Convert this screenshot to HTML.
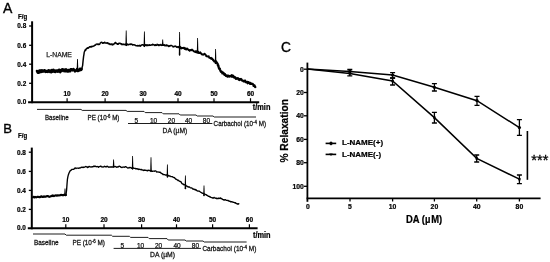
<!DOCTYPE html>
<html><head><meta charset="utf-8"><title>Figure</title>
<style>
html,body{margin:0;padding:0;background:#fff;}
body{width:550px;height:262px;overflow:hidden;font-family:"Liberation Sans",sans-serif;}
svg{display:block;filter:blur(0.3px);}
</style></head><body>
<svg width="550" height="262" viewBox="0 0 550 262">
<rect width="550" height="262" fill="#fff"/>
<g font-family="Liberation Sans, sans-serif" fill="#000">
<style>.b{font-weight:bold;stroke:#000;stroke-width:0.22px}</style>
<text x="2.9" y="13.3" font-size="14" stroke="#000" stroke-width="0.35">A</text>
<text x="3.3" y="133.3" font-size="13.1" stroke="#000" stroke-width="0.35">B</text>
<text x="281.1" y="52.2" font-size="13.8" stroke="#000" stroke-width="0.35">C</text>
<line x1="32.1" y1="21.3" x2="32.1" y2="103.2" stroke="#000" stroke-width="2"/>
<line x1="28.1" y1="102.2" x2="259.2" y2="102.2" stroke="#000" stroke-width="2"/>
<line x1="29.1" y1="26.0" x2="32.1" y2="26.0" stroke="#000" stroke-width="1.3"/>
<text x="17.3" y="28.3" font-size="6.5" class="b" textLength="8.9" lengthAdjust="spacingAndGlyphs">0.8</text>
<line x1="29.1" y1="45.3" x2="32.1" y2="45.3" stroke="#000" stroke-width="1.3"/>
<text x="17.3" y="47.6" font-size="6.5" class="b" textLength="8.9" lengthAdjust="spacingAndGlyphs">0.6</text>
<line x1="29.1" y1="64.2" x2="32.1" y2="64.2" stroke="#000" stroke-width="1.3"/>
<text x="17.3" y="66.5" font-size="6.5" class="b" textLength="8.9" lengthAdjust="spacingAndGlyphs">0.4</text>
<line x1="29.1" y1="83.3" x2="32.1" y2="83.3" stroke="#000" stroke-width="1.3"/>
<text x="17.3" y="85.6" font-size="6.5" class="b" textLength="8.9" lengthAdjust="spacingAndGlyphs">0.2</text>
<text x="17.3" y="103.9" font-size="6.5" class="b" textLength="8.9" lengthAdjust="spacingAndGlyphs">0.0</text>
<line x1="67.1" y1="98.2" x2="67.1" y2="102.2" stroke="#000" stroke-width="1.2"/>
<text x="67.1" y="96.1" font-size="6.5" class="b" text-anchor="middle">10</text>
<line x1="105.1" y1="98.2" x2="105.1" y2="102.2" stroke="#000" stroke-width="1.2"/>
<text x="105.1" y="96.1" font-size="6.5" class="b" text-anchor="middle">20</text>
<line x1="143.1" y1="98.2" x2="143.1" y2="102.2" stroke="#000" stroke-width="1.2"/>
<text x="143.1" y="96.1" font-size="6.5" class="b" text-anchor="middle">30</text>
<line x1="178.0" y1="98.2" x2="178.0" y2="102.2" stroke="#000" stroke-width="1.2"/>
<text x="178.0" y="96.1" font-size="6.5" class="b" text-anchor="middle">40</text>
<line x1="214.0" y1="98.2" x2="214.0" y2="102.2" stroke="#000" stroke-width="1.2"/>
<text x="214.0" y="96.1" font-size="6.5" class="b" text-anchor="middle">50</text>
<line x1="250.5" y1="98.2" x2="250.5" y2="102.2" stroke="#000" stroke-width="1.2"/>
<text x="250.5" y="96.1" font-size="6.5" class="b" text-anchor="middle">60</text>
<text x="18" y="18.9" font-size="6.6" class="b" textLength="9.2" lengthAdjust="spacingAndGlyphs">F/g</text>
<text x="252.8" y="110.3" font-size="8.3" class="b" textLength="17.6" lengthAdjust="spacingAndGlyphs">t/min</text>
<line x1="31.8" y1="147.6" x2="31.8" y2="229.3" stroke="#000" stroke-width="2"/>
<line x1="27.8" y1="228.3" x2="257.6" y2="228.3" stroke="#000" stroke-width="2"/>
<line x1="28.8" y1="152.2" x2="31.8" y2="152.2" stroke="#000" stroke-width="1.3"/>
<text x="17.0" y="154.5" font-size="6.5" class="b" textLength="8.9" lengthAdjust="spacingAndGlyphs">0.8</text>
<line x1="28.8" y1="171.4" x2="31.8" y2="171.4" stroke="#000" stroke-width="1.3"/>
<text x="17.0" y="173.7" font-size="6.5" class="b" textLength="8.9" lengthAdjust="spacingAndGlyphs">0.6</text>
<line x1="28.8" y1="190.4" x2="31.8" y2="190.4" stroke="#000" stroke-width="1.3"/>
<text x="17.0" y="192.7" font-size="6.5" class="b" textLength="8.9" lengthAdjust="spacingAndGlyphs">0.4</text>
<line x1="28.8" y1="209.4" x2="31.8" y2="209.4" stroke="#000" stroke-width="1.3"/>
<text x="17.0" y="211.7" font-size="6.5" class="b" textLength="8.9" lengthAdjust="spacingAndGlyphs">0.2</text>
<text x="17.0" y="230.3" font-size="6.5" class="b" textLength="8.9" lengthAdjust="spacingAndGlyphs">0.0</text>
<line x1="65.8" y1="224.3" x2="65.8" y2="228.3" stroke="#000" stroke-width="1.2"/>
<text x="65.8" y="222.0" font-size="6.5" class="b" text-anchor="middle">10</text>
<line x1="104.0" y1="224.3" x2="104.0" y2="228.3" stroke="#000" stroke-width="1.2"/>
<text x="104.0" y="222.0" font-size="6.5" class="b" text-anchor="middle">20</text>
<line x1="141.6" y1="224.3" x2="141.6" y2="228.3" stroke="#000" stroke-width="1.2"/>
<text x="141.6" y="222.0" font-size="6.5" class="b" text-anchor="middle">30</text>
<line x1="176.5" y1="224.3" x2="176.5" y2="228.3" stroke="#000" stroke-width="1.2"/>
<text x="176.5" y="222.0" font-size="6.5" class="b" text-anchor="middle">40</text>
<line x1="212.6" y1="224.3" x2="212.6" y2="228.3" stroke="#000" stroke-width="1.2"/>
<text x="212.6" y="222.0" font-size="6.5" class="b" text-anchor="middle">50</text>
<line x1="249.4" y1="224.3" x2="249.4" y2="228.3" stroke="#000" stroke-width="1.2"/>
<text x="249.4" y="222.0" font-size="6.5" class="b" text-anchor="middle">60</text>
<text x="18" y="138.3" font-size="6.6" class="b" textLength="9.2" lengthAdjust="spacingAndGlyphs">F/g</text>
<text x="253.0" y="238.2" font-size="8.3" class="b" textLength="17.6" lengthAdjust="spacingAndGlyphs">t/min</text>
<g fill="none" stroke="#000" stroke-linejoin="round" stroke-linecap="round">
<path d="M37.00 71.05L37.41 71.95L37.81 72.65L38.22 71.76L38.62 71.31L39.03 72.62L39.44 70.46L39.84 72.30L40.25 70.94L40.66 70.55L41.06 70.42L41.47 70.79L41.88 71.90L42.28 70.39L42.69 71.29L43.09 71.43L43.50 70.84L43.91 71.29L44.31 70.23L44.72 70.30L45.12 70.71L45.53 71.87L45.94 71.33L46.34 71.08L46.75 71.67L47.16 71.29L47.56 70.82L47.97 71.83L48.38 71.48L48.78 70.35L49.19 71.07L49.59 70.96L50.00 71.82L50.39 71.54L50.79 70.58L51.18 72.19L51.58 70.19L51.97 70.83L52.37 71.55L52.76 70.11L53.16 70.86L53.55 69.85L53.95 71.36L54.34 71.65L54.74 71.28L55.13 72.00L55.53 70.67L55.92 71.46L56.32 71.09L56.71 70.91L57.11 70.50L57.50 71.32L57.89 71.57L58.29 70.56L58.68 71.10L59.08 69.83L59.47 71.39L59.87 71.28L60.26 72.03L60.66 71.54L61.05 70.17L61.45 70.29L61.84 70.85L62.24 69.33L62.63 70.35L63.03 69.73L63.42 69.67L63.82 69.58L64.21 71.21L64.61 69.71L65.00 69.92L65.40 70.19L65.80 71.24L66.21 69.41L66.61 70.28L67.01 70.57L67.41 71.41L67.82 71.32L68.22 71.45L68.62 70.08L69.02 70.33L69.43 70.10L69.83 71.20L70.23 71.26L70.63 69.32L71.04 69.32L71.44 69.42L71.84 69.42L72.24 70.02L72.65 70.30L73.05 69.60L73.45 69.05L73.85 70.06L74.26 69.98L74.66 70.46L75.06 71.35L75.46 70.72L75.87 70.28L76.27 70.46L76.67 70.55L77.07 69.07L77.48 70.99L77.88 70.70L78.28 70.90L78.68 70.70L79.09 69.72L79.49 69.67L79.89 68.91L80.29 70.05L80.70 68.68L81.10 68.68L81.50 69.04" stroke-width="2.6"/>
<path d="M81.50 70.40L81.87 69.06L82.23 67.00L82.60 65.61L83.10 60.69L83.60 56.38L83.95 54.31L84.30 51.88L84.65 51.70L85.00 50.10L85.38 49.58L85.75 50.18L86.12 49.29L86.50 48.47L86.92 48.57L87.35 47.73L87.78 48.02L88.20 48.23L88.58 47.94L88.97 47.56L89.35 46.88L89.73 46.82L90.12 46.47L90.50 47.05L90.90 46.76L91.30 46.99L91.70 46.42L92.10 46.15L92.50 46.59L92.90 46.54L93.30 46.18L93.69 45.95L94.07 45.85L94.46 45.70L94.84 45.08L95.23 45.31L95.61 44.98L96.00 44.41L96.40 44.13L96.80 44.14L97.20 43.92L97.60 44.29L98.00 44.55L98.40 43.99L98.83 44.54L99.27 44.51L99.70 44.24L100.13 43.26L100.57 42.75L101.00 42.47L101.40 42.31L101.80 42.30L102.20 42.83L102.60 43.22L103.00 43.19L103.40 42.74L103.83 42.93L104.27 43.03L104.70 42.17L105.13 42.79L105.57 43.11L106.00 43.07L106.42 43.18L106.83 43.00L107.25 42.74L107.67 43.46L108.08 43.02L108.50 43.63L108.89 44.00L109.28 43.58L109.67 43.79L110.06 44.57L110.45 44.44L110.84 43.89L111.23 43.88L111.62 43.95L112.01 44.87L112.40 44.92L112.82 44.02L113.23 44.61L113.65 44.58L114.07 43.95L114.48 43.26L114.90 43.07L115.29 42.55L115.68 42.43L116.08 43.58L116.47 43.42L116.86 43.50L117.25 44.15L117.65 43.73L118.04 44.22L118.43 44.09L118.82 43.27L119.22 43.20L119.61 43.20L120.00 43.21L120.39 43.74L120.78 43.60L121.16 43.98L121.55 43.81L121.94 44.74L122.33 44.12L122.71 44.17L123.10 44.26L123.49 44.59L123.88 44.10L124.26 44.73L124.65 44.38L125.04 44.52L125.42 44.57L125.81 44.04L126.20 44.51L126.60 44.16L127.00 43.94L127.40 44.83L127.80 44.18L128.20 44.55L128.60 44.83L129.00 44.59L129.40 44.23L129.80 44.33L130.20 44.28L130.60 44.51L131.00 43.81L131.40 44.41L131.80 44.26L132.20 44.44L132.60 45.04L133.00 44.73L133.40 44.72L133.80 44.89L134.20 45.09L134.60 44.71L135.00 45.12L135.40 45.27L135.80 45.52L136.20 45.87L136.60 45.65L137.00 45.68L137.40 45.52L137.80 45.97L138.21 45.60L138.62 45.80L139.04 45.97L139.45 45.34L139.86 45.76L140.28 46.18L140.69 45.98L141.10 45.06L141.51 44.89L141.93 45.13L142.34 44.68L142.75 44.89L143.16 44.74L143.58 45.42L143.99 45.52L144.40 45.58L144.81 44.71L145.22 45.29L145.62 45.23L146.03 44.69L146.44 45.55L146.85 45.67L147.25 44.83L147.66 45.57L148.07 44.87L148.48 44.89L148.88 45.43L149.29 45.32L149.70 44.70L150.11 45.13L150.52 45.31L150.92 45.11L151.33 44.85L151.74 44.81L152.15 45.08L152.55 44.19L152.96 44.78L153.37 44.77L153.78 44.49L154.18 45.01L154.59 45.43L155.00 45.29L155.41 44.69L155.81 45.53L156.22 45.16L156.62 45.28L157.03 44.35L157.43 44.63L157.84 44.52L158.24 45.46L158.65 44.94L159.05 44.75L159.46 44.97L159.86 45.39L160.27 45.21L160.67 44.58L161.08 44.51L161.48 45.44L161.89 45.14L162.29 45.32L162.70 44.65L163.11 44.62L163.51 45.32L163.92 45.06L164.32 44.74L164.73 45.78L165.13 45.53L165.54 45.76L165.94 44.97L166.35 45.80L166.76 44.92L167.16 45.82L167.57 45.48L167.97 45.53L168.38 45.98L168.78 46.57L169.19 45.95L169.59 45.79L170.00 46.12L170.40 45.66L170.80 45.40L171.20 45.43L171.60 45.41L172.00 45.78L172.40 46.15L172.80 46.37L173.20 47.01L173.60 46.52L174.00 46.68L174.40 46.22L174.80 46.32L175.20 45.96L175.60 46.30L176.00 46.20L176.40 47.17L176.80 47.12L177.20 46.79L177.60 47.10L178.00 47.55L178.40 46.59L178.80 47.37L179.20 47.00L179.60 47.20" stroke-width="1.45"/>
<path d="M179.60 46.84L179.99 46.78L180.37 46.83L180.76 48.19L181.14 48.48L181.53 48.40L181.91 47.96L182.30 47.96L182.69 48.02L183.07 48.19L183.46 47.65L183.84 48.02L184.23 47.76L184.61 48.89L185.00 49.04L185.42 48.60L185.83 48.34L186.25 49.59L186.67 48.75L187.08 48.96L187.50 48.59L187.92 49.38L188.33 49.80L188.75 50.15L189.17 49.99L189.58 50.66L190.00 50.01L190.40 50.37L190.80 49.99L191.20 50.30L191.60 49.64L192.00 49.57L192.40 50.05L192.80 50.10L193.20 50.86L193.60 51.01L194.00 51.55L194.40 51.56L194.80 51.73L195.20 52.02L195.60 51.32L196.00 51.30L196.40 52.40L196.80 51.31L197.20 52.34L197.60 52.36L197.99 51.62L198.38 52.90L198.77 53.03L199.16 52.66L199.55 52.88L199.94 53.11L200.33 52.30L200.72 53.13L201.11 53.40L201.49 54.18L201.88 54.37L202.27 54.55L202.66 54.26L203.05 54.74L203.44 54.43L203.83 54.48L204.22 53.89L204.61 53.77L205.00 54.16L205.42 54.88L205.83 54.85L206.25 56.24L206.67 56.04L207.08 56.30L207.50 56.43L207.92 56.67L208.33 56.61L208.75 56.16L209.17 57.67L209.58 57.92L210.00 57.84L210.38 58.11L210.75 58.48L211.12 57.75L211.50 58.93L211.88 58.43L212.25 58.45L212.62 59.10L213.00 60.22L213.43 59.87L213.87 61.06L214.30 61.71L214.73 61.16L215.17 61.08L215.60 61.28" stroke-width="1.9"/>
<path d="M215.60 61.44L216.00 61.39L216.40 62.23L216.80 62.73L217.20 63.34L217.57 63.63L217.93 65.49L218.30 65.26L218.75 67.60L219.20 68.73L219.70 68.45L220.20 70.10L220.56 71.03L220.92 71.68L221.28 71.42L221.64 71.63L222.00 72.00L222.40 73.34L222.80 72.60L223.20 73.39L223.60 73.06L224.00 73.89L224.42 74.77L224.83 73.93L225.25 75.21L225.67 75.08L226.08 75.92L226.50 75.96L226.93 75.47L227.37 76.56L227.80 76.15L228.23 75.66L228.67 75.77L229.10 76.58L229.50 76.43L229.90 76.12L230.30 75.80L230.70 76.00L231.10 75.89L231.50 76.55L231.90 75.29L232.30 76.25L232.70 76.55L233.10 75.73L233.50 77.05L233.90 76.99L234.30 77.53L234.70 76.97L235.10 77.40L235.50 77.73L235.90 78.84L236.30 78.49L236.70 78.35L237.09 78.53L237.49 78.41L237.88 78.21L238.27 78.43L238.67 79.62L239.06 79.00L239.46 80.02L239.85 79.12L240.24 79.16L240.64 79.51L241.03 79.08L241.43 79.41L241.82 80.36L242.21 80.46L242.61 80.58L243.00 80.55L243.40 81.18L243.80 81.41L244.20 81.02L244.60 81.40L245.00 80.63L245.40 81.79L245.80 81.64L246.20 82.32L246.60 82.41L247.00 82.10L247.40 81.90L247.80 83.21L248.20 82.13L248.58 82.66L248.96 82.54L249.34 82.59L249.72 83.36L250.10 83.87L250.48 83.05L250.86 83.79L251.24 83.45L251.62 83.96L252.00 83.89L252.41 83.82L252.82 84.10L253.24 84.48L253.65 85.79L254.06 85.55L254.48 85.47L254.89 86.71L255.30 87.08" stroke-width="2.3"/>
<path d="M33.00 197.13L33.50 196.82L34.00 196.93L34.50 197.46L35.00 196.78L35.50 197.09L36.00 197.20L36.50 197.39L37.00 196.87L37.50 196.90L38.00 196.86L38.50 196.94L39.00 196.92L39.50 197.26L40.00 197.10L40.50 197.04L41.00 196.31L41.50 196.29L42.00 196.85L42.50 197.03L43.00 196.73L43.50 196.84L44.00 196.34L44.50 196.56L45.00 196.85L45.50 196.62L46.00 196.52L46.50 196.55L47.00 195.98L47.50 195.94L48.00 196.09L48.50 196.49L49.00 196.67L49.50 196.86L50.00 196.59L50.50 196.37L51.00 196.30L51.50 195.91L52.00 195.89L52.50 195.44L53.00 196.04L53.50 195.61L54.00 196.15L54.50 195.90L55.00 195.57L55.50 195.36L56.00 195.40L56.50 195.67L57.00 195.71L57.50 195.25L58.00 195.22L58.50 195.57L59.00 195.57L59.50 195.34L60.00 195.11L60.50 195.30L61.00 194.73L61.50 194.87L62.00 194.93L62.50 195.27L63.00 194.98L63.50 195.14L64.00 194.80L64.50 194.63L65.00 194.68L65.50 195.29L66.00 195.12" stroke-width="2.1"/>
<path d="M66.00 194.89L66.60 190.04L67.00 184.39L67.40 179.43L67.90 176.68L68.40 174.66L68.93 173.23L69.47 172.06L70.00 171.16L70.50 170.35L71.00 170.36L71.50 169.79L72.00 169.40L72.50 169.42L73.00 169.43L73.50 169.32L74.00 169.11L74.50 168.22L75.00 168.12L75.50 167.99L76.00 168.59L76.50 168.19L77.00 168.18L77.50 168.10L78.00 168.13L78.50 168.25L79.00 168.08L79.50 167.88L80.00 167.97L80.50 167.88L81.00 167.40L81.50 167.19L82.00 167.59L82.50 167.46L83.00 167.04L83.50 167.47L84.00 167.24L84.50 167.09L85.00 166.88L85.50 166.65L86.00 166.52L86.50 166.79L87.00 166.97L87.50 167.43L88.00 166.84L88.50 167.20L89.00 166.50L89.50 166.47L90.00 166.78L90.50 166.96L91.00 166.92L91.50 166.79L92.00 167.02L92.50 166.77L93.00 166.88L93.50 166.22L94.00 166.22L94.50 166.55L95.00 166.04L95.50 166.35L96.00 166.69L96.50 166.78L97.00 166.48L97.50 166.65L98.00 166.77L98.50 167.28L99.00 166.66L99.50 166.68L100.00 166.53L100.50 166.08L101.00 166.16L101.50 166.87L102.00 166.94L102.50 166.89L103.00 167.18L103.50 166.77L104.00 166.53L104.50 166.20L105.00 166.63L105.50 166.76L106.00 166.63L106.50 166.86L107.00 166.26L107.50 166.41L108.00 166.64L108.50 167.08L109.00 167.25L109.50 167.00L110.00 166.94L110.51 166.99L111.03 166.93L111.54 167.15L112.06 166.68L112.57 167.12L113.09 167.07L113.60 167.04L114.09 166.84L114.58 166.60L115.08 166.40L115.57 166.53L116.06 166.79L116.55 167.30L117.05 166.96L117.54 166.97L118.03 167.10L118.52 166.52L119.02 166.22L119.51 166.16L120.00 166.60L120.50 166.70L121.00 167.34L121.50 167.43L122.00 167.58L122.50 167.15L123.00 167.05L123.50 167.04L124.00 167.23L124.50 167.24L125.00 166.91L125.50 166.67L126.00 166.82L126.50 167.14L127.00 167.47L127.50 167.81L128.00 168.04L128.51 167.92L129.02 167.45L129.53 167.77L130.04 167.40L130.56 167.71L131.07 167.82L131.58 168.27L132.09 168.03L132.60 168.04L133.08 168.00L133.56 167.91L134.04 168.42L134.52 168.33L135.00 168.32L135.50 168.48L136.00 168.94L136.50 168.68L137.00 168.57L137.50 169.07L138.00 169.14L138.50 169.52L139.00 169.04L139.50 169.28L140.00 169.49L140.50 169.54L141.00 169.75L141.50 169.45L142.00 169.90L142.50 169.98L143.00 170.07L143.50 170.47L144.00 170.08L144.50 170.24L145.00 169.96L145.50 170.44L146.00 170.37L146.50 170.39L147.00 170.74L147.50 170.76L148.00 170.12L148.50 170.41L149.00 170.49L149.50 170.37L150.00 170.63L150.50 170.62L151.00 170.75L151.50 170.90L152.00 171.25L152.50 171.41L153.00 171.21L153.50 171.07L154.00 171.15L154.50 171.22L155.00 170.81L155.50 170.97L156.00 171.16L156.50 171.90L157.00 172.07L157.50 171.94L158.00 171.93L158.50 172.09L159.00 172.14L159.50 172.25L160.00 172.12L160.50 172.50L161.00 173.23L161.50 173.39L162.00 173.60L162.50 173.86L163.00 174.52L163.49 174.33L163.98 174.68L164.47 174.68L164.96 174.77L165.44 175.05L165.93 175.14L166.42 174.82L166.91 174.93L167.40 175.57L167.91 175.47L168.42 175.51L168.93 176.15L169.44 175.87L169.96 176.19L170.47 176.10L170.98 176.68L171.49 176.67L172.00 176.63L172.50 176.74L173.00 177.17L173.50 177.31L174.00 177.68L174.50 177.52L175.00 178.35L175.50 178.72L176.00 179.26L176.50 179.37L177.00 179.68L177.50 180.04L178.00 180.52L178.50 180.23L179.00 180.72L179.50 181.17L180.00 181.54L180.50 181.41L181.00 181.84L181.50 182.96L182.00 183.63L182.49 183.88L182.97 183.99L183.46 184.74L183.94 184.46L184.43 184.83L184.91 184.80L185.40 185.26L185.91 185.23L186.42 186.07L186.93 186.08L187.44 186.44L187.96 186.87L188.47 187.00L188.98 186.79L189.49 187.08L190.00 187.50L190.50 187.80L191.00 187.90L191.50 187.89L192.00 188.16L192.50 188.72L193.00 189.13L193.50 188.87L194.00 189.43L194.50 189.68L195.00 189.32L195.50 189.96L196.00 189.72L196.50 190.39L197.00 190.72L197.50 191.05L198.00 190.98L198.50 191.08L199.00 191.21L199.50 191.25L200.00 191.72L200.50 192.01L201.00 192.46L201.50 192.58L202.00 193.20L202.50 193.24L203.00 193.16L203.50 193.62L204.00 193.84L204.50 193.98L205.00 194.14L205.50 194.63L206.00 194.66L206.50 194.94L207.00 195.42L207.50 195.53L208.00 196.05L208.50 196.36L209.00 196.25L209.50 196.79L210.00 196.65L210.50 197.17L211.00 197.45L211.50 197.61L212.00 197.59L212.50 197.99L213.00 197.83L213.50 198.02L214.00 197.34L214.50 197.78L215.00 198.01L215.49 198.08L215.98 198.38L216.47 198.15L216.96 198.71L217.45 198.37L217.95 198.62L218.44 198.57L218.93 198.07L219.42 198.45L219.91 198.50L220.40 197.90L220.88 198.18L221.37 198.64L221.85 198.57L222.34 199.42L222.82 199.36L223.31 199.93L223.79 199.59L224.28 199.81L224.76 200.07L225.25 199.68L225.73 199.90L226.22 200.32L226.70 200.44L227.21 200.40L227.73 200.52L228.24 200.48L228.75 201.00L229.27 201.01L229.78 201.44L230.29 201.30L230.81 201.95L231.32 201.66L231.83 201.95L232.35 202.01L232.86 201.88L233.37 202.34L233.89 202.32L234.40 202.53L234.89 202.91L235.38 202.61L235.87 203.42L236.36 203.48L236.84 203.63L237.33 204.10L237.82 203.82L238.31 204.17L238.80 203.69" stroke-width="1.35"/>
</g>
<path d="M77.10 59.00L77.90 59.00L78.30 69.00L77.50 70.00L76.70 69.00Z" fill="#000"/><path d="M125.80 30.40L126.60 30.40L127.00 45.30L126.20 46.30L125.40 45.30Z" fill="#000"/><path d="M144.00 31.60L144.80 31.60L145.20 46.20L144.40 47.20L143.60 46.20Z" fill="#000"/><path d="M162.30 39.40L163.10 39.40L163.50 45.00L162.70 46.00L161.90 45.00Z" fill="#000"/><path d="M179.20 32.00L180.00 32.00L180.40 55.00L179.60 56.00L178.80 55.00Z" fill="#000"/><path d="M197.20 38.00L198.00 38.00L198.40 52.80L197.60 53.80L196.80 52.80Z" fill="#000"/><path d="M215.20 49.00L216.00 49.00L216.40 63.20L215.60 64.20L214.80 63.20Z" fill="#000"/>
<path d="M64.60 188.60L65.40 188.60L65.80 194.50L65.00 195.50L64.20 194.50Z" fill="#000"/><path d="M113.20 159.40L114.00 159.40L114.40 166.80L113.60 167.80L112.80 166.80Z" fill="#000"/><path d="M132.20 156.00L133.00 156.00L133.40 169.00L132.60 170.00L131.80 169.00Z" fill="#000"/><path d="M150.60 157.30L151.40 157.30L151.80 171.20L151.00 172.20L150.20 171.20Z" fill="#000"/><path d="M167.00 164.40L167.80 164.40L168.20 177.00L167.40 178.00L166.60 177.00Z" fill="#000"/><path d="M185.00 175.60L185.80 175.60L186.20 188.60L185.40 189.60L184.60 188.60Z" fill="#000"/><path d="M203.60 185.60L204.40 185.60L204.80 195.40L204.00 196.40L203.20 195.40Z" fill="#000"/>
<text x="46.2" y="57.2" font-size="6.8" fill="#222" stroke="#222" stroke-width="0.25">L-NAME</text>
<g fill="none" stroke="#111" stroke-width="0.95">
<path d="M37.0 109.4H81.0 L82.2 110.4H126.0 L127.2 111.4H144.0 L145.2 112.6H162.0 L163.2 113.8H179.0 L180.2 115.0H196.0 L197.2 116.0H213.0 L214.2 117.0H256.0"/>
<path d="M128 123.5H212.4"/>
<path d="M33.0 234.0H65.0 L66.2 235.2H111.4 L112.6 236.3H129.4 L130.6 237.4H148.0 L149.2 238.6H167.0 L168.2 240.0H185.0 L186.2 241.0H203.0 L204.2 242.0H246.6"/>
<path d="M113.6 248.4H201"/>
</g>
<g fill="#151515" font-size="7" stroke="#151515" stroke-width="0.28">
<text x="45.0" y="120.1" textLength="23.6" lengthAdjust="spacingAndGlyphs">Baseline</text>
<text x="87.6" y="120.1" textLength="31.8" lengthAdjust="spacingAndGlyphs">PE (10<tspan font-size="4.8" dy="-2.4">-6</tspan><tspan dy="2.4"> M)</tspan></text>
<text x="213.6" y="126.0" textLength="52.4" lengthAdjust="spacingAndGlyphs">Carbachol (10<tspan font-size="4.8" dy="-2.4">-4</tspan><tspan dy="2.4"> M)</tspan></text>
<text x="162.6" y="133.2" textLength="24.6" lengthAdjust="spacingAndGlyphs">DA (µM)</text>
<text x="34.0" y="245.2" textLength="24.6" lengthAdjust="spacingAndGlyphs">Baseline</text>
<text x="72.4" y="245.2" textLength="32.6" lengthAdjust="spacingAndGlyphs">PE (10<tspan font-size="4.8" dy="-2.4">-6</tspan><tspan dy="2.4"> M)</tspan></text>
<text x="202.4" y="251.1" textLength="54.0" lengthAdjust="spacingAndGlyphs">Carbachol (10<tspan font-size="4.8" dy="-2.4">-4</tspan><tspan dy="2.4"> M)</tspan></text>
<text x="150.0" y="256.5" textLength="25.0" lengthAdjust="spacingAndGlyphs">DA (µM)</text>
</g>
<g fill="#151515" font-size="6.5" text-anchor="middle" stroke="#151515" stroke-width="0.25">
<text x="136.4" y="123">5</text>
<text x="153.6" y="123">10</text>
<text x="171.4" y="123">20</text>
<text x="188.6" y="123">40</text>
<text x="206.4" y="123">80</text>
<text x="122.4" y="248">5</text>
<text x="140.6" y="248">10</text>
<text x="158.6" y="248">20</text>
<text x="177.0" y="248">40</text>
<text x="195.4" y="248">80</text>
</g>
<line x1="307.4" y1="62.6" x2="307.4" y2="201.8" stroke="#000" stroke-width="1.8"/>
<line x1="306.6" y1="198.3" x2="540.6" y2="198.3" stroke="#000" stroke-width="1.8"/>
<line x1="304.0" y1="69.2" x2="307.4" y2="69.2" stroke="#000" stroke-width="1.3"/>
<text x="303.8" y="71.7" font-size="6.8" class="b" text-anchor="end">0</text>
<line x1="304.0" y1="92.5" x2="307.4" y2="92.5" stroke="#000" stroke-width="1.3"/>
<text x="303.8" y="95.0" font-size="6.8" class="b" text-anchor="end">20</text>
<line x1="304.0" y1="115.8" x2="307.4" y2="115.8" stroke="#000" stroke-width="1.3"/>
<text x="303.8" y="118.3" font-size="6.8" class="b" text-anchor="end">40</text>
<line x1="304.0" y1="139.4" x2="307.4" y2="139.4" stroke="#000" stroke-width="1.3"/>
<text x="303.8" y="141.9" font-size="6.8" class="b" text-anchor="end">60</text>
<line x1="304.0" y1="162.7" x2="307.4" y2="162.7" stroke="#000" stroke-width="1.3"/>
<text x="303.8" y="165.2" font-size="6.8" class="b" text-anchor="end">80</text>
<line x1="304.0" y1="186.3" x2="307.4" y2="186.3" stroke="#000" stroke-width="1.3"/>
<text x="303.8" y="188.8" font-size="6.8" class="b" text-anchor="end">100</text>
<text x="307.8" y="209.3" font-size="6.8" class="b" text-anchor="middle">0</text>
<line x1="350.0" y1="198.3" x2="350.0" y2="201.5" stroke="#000" stroke-width="1.3"/>
<text x="350.0" y="209.3" font-size="6.8" class="b" text-anchor="middle">5</text>
<line x1="392.6" y1="198.3" x2="392.6" y2="201.5" stroke="#000" stroke-width="1.3"/>
<text x="392.6" y="209.3" font-size="6.8" class="b" text-anchor="middle">10</text>
<line x1="434.4" y1="198.3" x2="434.4" y2="201.5" stroke="#000" stroke-width="1.3"/>
<text x="434.4" y="209.3" font-size="6.8" class="b" text-anchor="middle">20</text>
<line x1="476.7" y1="198.3" x2="476.7" y2="201.5" stroke="#000" stroke-width="1.3"/>
<text x="476.7" y="209.3" font-size="6.8" class="b" text-anchor="middle">40</text>
<line x1="519.4" y1="198.3" x2="519.4" y2="201.5" stroke="#000" stroke-width="1.3"/>
<text x="519.4" y="209.3" font-size="6.8" class="b" text-anchor="middle">80</text>
<text x="406" y="222.5" font-size="10.2" class="b" textLength="36.2" lengthAdjust="spacingAndGlyphs" stroke="#000" stroke-width="0.2">DA (µ<tspan dx="0.9">M)</tspan></text>
<text transform="translate(288.3,162.6) rotate(-90)" font-size="10.6" class="b" textLength="63.6" lengthAdjust="spacingAndGlyphs">% Relaxation</text>
<polyline fill="none" stroke="#000" stroke-width="1.5" points="307.4,69.0 349.8,71.4 392.6,75.0 434.4,87.3 477.0,100.7 519.4,127.6"/>
<path d="M349.8 69.4V73.4M347.3 69.4h5M347.3 73.4h5" stroke="#000" stroke-width="1.3" fill="none"/>
<path d="M392.6 72.6V78.0M390.1 72.6h5M390.1 78.0h5" stroke="#000" stroke-width="1.3" fill="none"/>
<path d="M434.4 83.6V91.0M431.9 83.6h5M431.9 91.0h5" stroke="#000" stroke-width="1.3" fill="none"/>
<path d="M477.0 96.4V105.4M474.5 96.4h5M474.5 105.4h5" stroke="#000" stroke-width="1.3" fill="none"/>
<path d="M519.4 119.6V135.4M516.9 119.6h5M516.9 135.4h5" stroke="#000" stroke-width="1.3" fill="none"/>
<polyline fill="none" stroke="#000" stroke-width="1.5" points="307.4,69.0 349.8,73.4 392.6,81.0 434.4,117.6 476.7,158.4 519.4,179.2"/>
<path d="M349.8 71.2V75.8M347.3 71.2h5M347.3 75.8h5" stroke="#000" stroke-width="1.3" fill="none"/>
<path d="M392.6 78.0V85.0M390.1 78.0h5M390.1 85.0h5" stroke="#000" stroke-width="1.3" fill="none"/>
<path d="M434.4 112.4V123.0M431.9 112.4h5M431.9 123.0h5" stroke="#000" stroke-width="1.3" fill="none"/>
<path d="M476.7 155.0V162.0M474.2 155.0h5M474.2 162.0h5" stroke="#000" stroke-width="1.3" fill="none"/>
<path d="M519.4 175.0V183.6M516.9 175.0h5M516.9 183.6h5" stroke="#000" stroke-width="1.3" fill="none"/>
<circle cx="349.8" cy="71.4" r="1.6"/>
<circle cx="392.6" cy="75.0" r="1.6"/>
<circle cx="434.4" cy="87.3" r="1.6"/>
<circle cx="477.0" cy="100.7" r="1.6"/>
<circle cx="519.4" cy="127.6" r="1.6"/>
<rect x="348.6" y="72.2" width="2.4" height="2.4"/>
<rect x="391.4" y="79.8" width="2.4" height="2.4"/>
<rect x="433.2" y="116.4" width="2.4" height="2.4"/>
<rect x="475.5" y="157.2" width="2.4" height="2.4"/>
<rect x="518.2" y="178.0" width="2.4" height="2.4"/>
<path d="M325.6 143.4h10.6" stroke="#000" stroke-width="1.6"/><path d="M331 141.2l2.3 2.2l-2.3 2.2l-2.3-2.2z"/>
<path d="M325.6 154.4h10.6" stroke="#000" stroke-width="1.6"/><path d="M329.2 153.4h3.6l-1.8 2.7z"/>
<text x="342" y="145.4" font-size="8" class="b">L-NAME(+)</text>
<text x="342" y="156.6" font-size="8" class="b">L-NAME(-)</text>
<line x1="527.4" y1="131" x2="527.4" y2="179.8" stroke="#000" stroke-width="1.6"/>
<text x="531.3" y="164.7" font-size="15" stroke="#000" stroke-width="0.3" textLength="17" lengthAdjust="spacingAndGlyphs">***</text>
</g></svg>
</body></html>
